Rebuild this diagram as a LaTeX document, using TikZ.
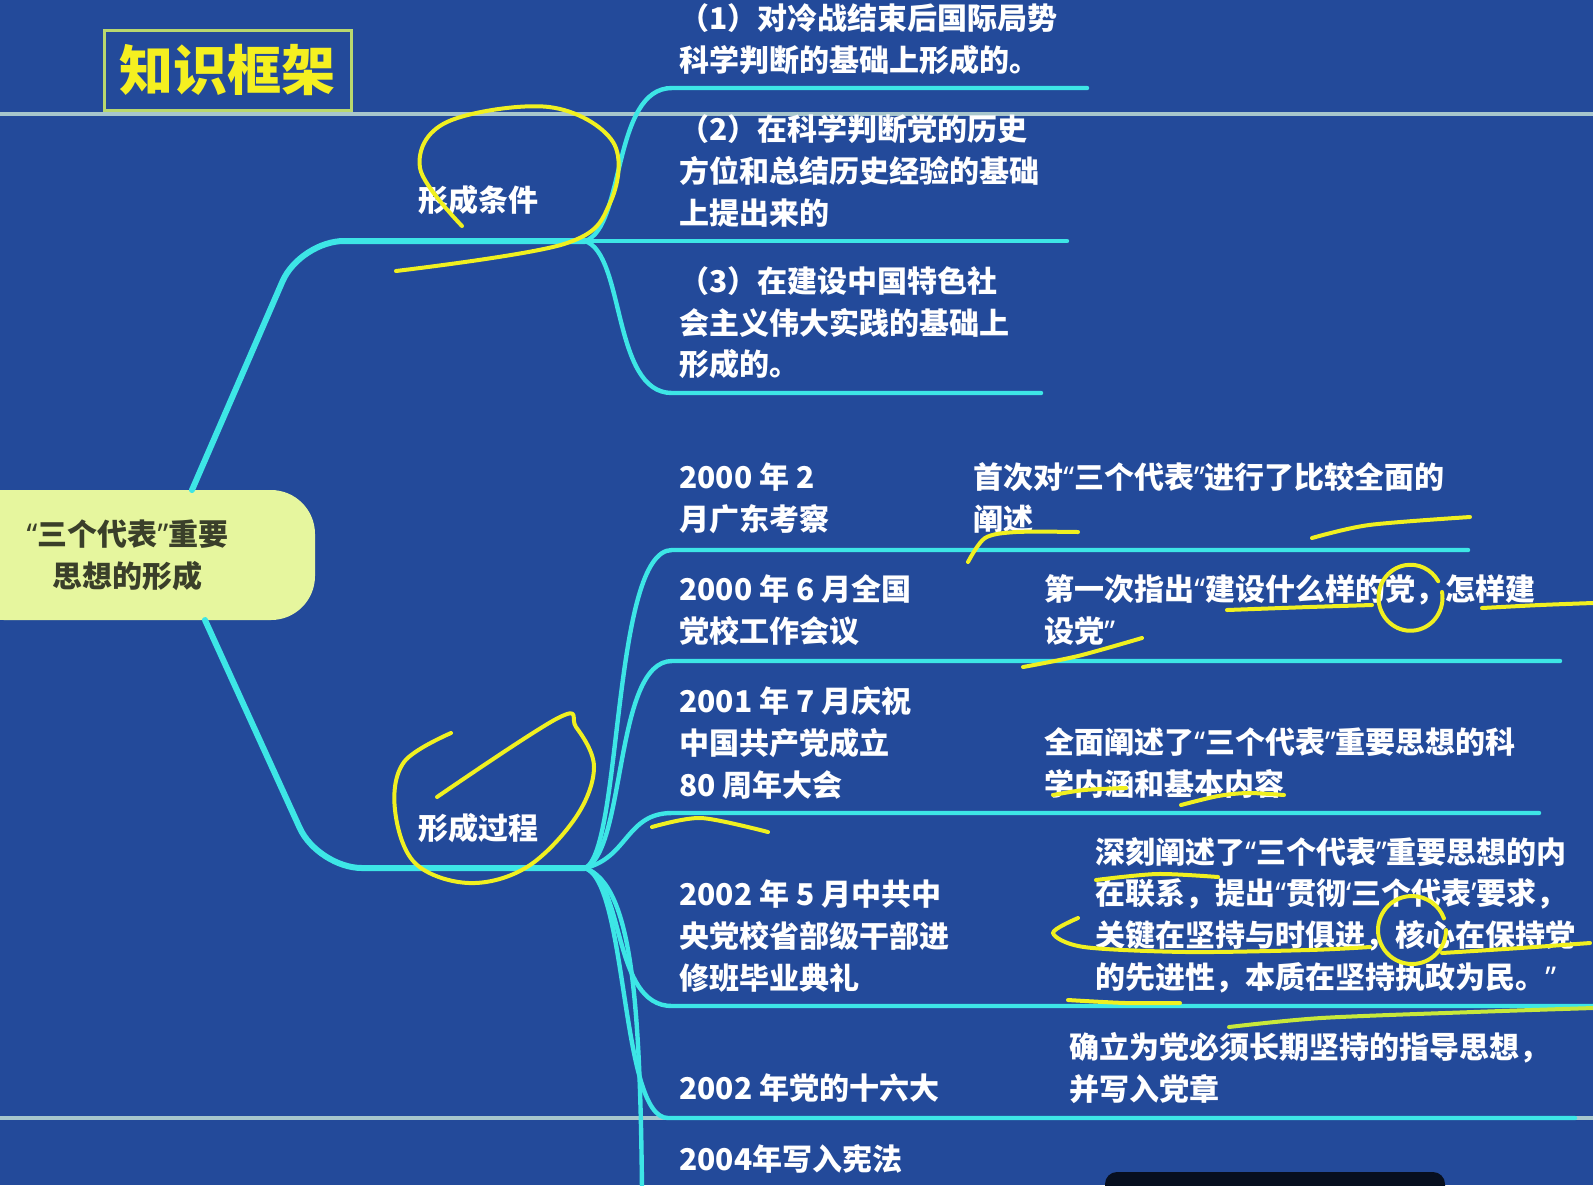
\documentclass[tikz,border=0pt]{standalone}
\usepackage{fontspec}
\newfontfamily\cjk{Noto Sans CJK SC}
\newfontfamily\latf{Noto Sans}
\newcommand\oq{{\latf “}}
\newcommand\cq{{\latf ”}}
\newcommand\osq{{\latf ‘}}
\newcommand\csq{{\latf ’}}
\definecolor{bg}{HTML}{234A9A}
\definecolor{cyanl}{HTML}{3DE6E6}
\definecolor{grayl}{HTML}{A7C6CC}
\definecolor{rootfill}{HTML}{E6F69E}
\definecolor{roottext}{HTML}{3A3F2A}
\definecolor{titley}{HTML}{F5F020}
\definecolor{titleb}{HTML}{B9D86E}
\definecolor{inky}{HTML}{F0F020}
\definecolor{inkg}{HTML}{C8E83A}
\tikzset{
  mainbr/.style={draw=cyanl, line width=3pt, line cap=round},
  subbr/.style={draw=cyanl, line width=2.2pt, line cap=round},
  slideline/.style={draw=grayl, line width=2pt},
  txt/.style={text=white, font=\cjk\bfseries\fontsize{15}{20.8}\selectfont, align=left, anchor=west, inner sep=0pt},
  lbl/.style={text=white, font=\cjk\bfseries\fontsize{15}{18}\selectfont, inner sep=0pt},
  rootbox/.style={fill=rootfill, rounded corners=22pt, minimum width=177.5pt, minimum height=65pt, text=roottext, font=\cjk\bfseries\fontsize{15}{21}\selectfont, align=center, inner sep=0pt},
  titlebox/.style={draw=titleb, line width=1.5pt, minimum width=123.5pt, minimum height=40pt, text=titley, font=\cjk\bfseries\fontsize{27}{30}\selectfont, inner sep=0pt},
  ink/.style={draw=inky, line width=2pt, line cap=round, line join=round},
}
\begin{document}
\begin{tikzpicture}[x=0.5pt,y=-0.5pt]
\useasboundingbox (0,0) rectangle (1593,1185);
\clip (0,0) rectangle (1593,1185);
\fill[bg] (0,0) rectangle (1593,1185);
% slide decoration lines
\draw[slideline] (0,114) -- (1593,114);
\draw[slideline] (0,1118) -- (1593,1118);
% title
\node[titlebox] (title) at (227.5,70) {知识框架};
% root
\node[rootbox] (root) at (137.5,555) {\hspace*{-10pt}\oq 三个代表\cq 重要\\\hspace*{-10pt}思想的形成};
% junction and branch points
\coordinate (rt) at (192,490);
\coordinate (rb) at (205,620);
\coordinate (j1) at (585,241);
\coordinate (j2) at (585,868);
\coordinate (e1) at (1087,88);
\coordinate (e2) at (1067,241);
\coordinate (e3) at (1041,393);
\coordinate (f1) at (1468,550);
\coordinate (f2) at (1560,661);
\coordinate (f3) at (1539,813);
\coordinate (f4) at (1600,1006);
\coordinate (f5) at (1575,1118);
\coordinate (f6) at (642,1190);
% main branches
\draw[mainbr, rounded corners=22pt] (rt) -- (300,241) -- (j1);
\draw[mainbr, rounded corners=22pt] (rb) -- (318,868) -- (j2);
% sub branches of 形成条件
\draw[subbr] (j1) .. controls (625,228) and (612,88) .. (672,88) -- (e1);
\draw[subbr] (j1) -- (e2);
\draw[subbr] (j1) .. controls (625,254) and (612,393) .. (672,393) -- (e3);
% sub branches of 形成过程
\draw[subbr] (j2) .. controls (622,852) and (612,550) .. (672,550) -- (f1);
\draw[subbr] (j2) .. controls (626,852) and (614,661) .. (672,661) -- (f2);
\draw[subbr] (j2) .. controls (628,858) and (626,813) .. (672,813) -- (f3);
\draw[subbr] (j2) .. controls (625,882) and (612,1006) .. (672,1006) -- (f4);
\draw[subbr] (j2) .. controls (628,882) and (620,1118) .. (668,1118) -- (f5);
\draw[subbr] (j2) .. controls (632,885) and (640,1000) .. (f6);
% branch labels
\node[lbl] (cond) at (478,200) {形成条件};
\node[lbl] (proc) at (478,828) {形成过程};
% condition texts
\node[txt] (c1) at (679,39) {（1）对冷战结束后国际局势\\科学判断的基础上形成的。};
\node[txt] (c2) at (679,171) {（2）在科学判断党的历史\\方位和总结历史经验的基础\\上提出来的};
\node[txt] (c3) at (679,323) {（3）在建设中国特色社\\会主义伟大实践的基础上\\形成的。};
% process texts
\node[txt] (p1) at (679,498) {2000 年 2\\月广东考察};
\node[txt] (q1) at (973,498) {首次对\oq 三个代表\cq 进行了比较全面的\\阐述};
\node[txt] (p2) at (679,610) {2000 年 6 月全国\\党校工作会议};
\node[txt] (q2) at (1044,610) {第一次指出\oq 建设什么样的党，怎样建\\设党\cq};
\node[txt] (p3) at (679,743) {2001 年 7 月庆祝\\中国共产党成立\\80 周年大会};
\node[txt] (q3) at (1044,763) {全面阐述了\oq 三个代表\cq 重要思想的科\\学内涵和基本内容};
\node[txt] (p4) at (679,936) {2002 年 5 月中共中\\央党校省部级干部进\\修班毕业典礼};
\node[txt] (q4) at (1095,915) {深刻阐述了\oq 三个代表\cq 重要思想的内\\在联系，提出\oq 贯彻\osq 三个代表\csq 要求，\\关键在坚持与时俱进，核心在保持党\\的先进性，本质在坚持执政为民。\cq};
\node[txt] (p5) at (679,1088) {2002 年党的十六大};
\node[txt] (q5) at (1069,1068) {确立为党必须长期坚持的指导思想，\\并写入党章};
\node[txt] (p6) at (679,1159) {2004年写入宪法};
% dark object at the bottom
\fill[black!80!bg, rounded corners=6pt] (1105,1172) rectangle (1445,1200);
% hand-drawn annotations
\draw[ink] plot[smooth, tension=0.6] coordinates {(462,226) (420,168) (447,122) (549,107) (613,142) (610,203) (564,244) (396,271)};
\draw[ink] plot[smooth, tension=0.6] coordinates {(451,733) (404,762) (395,810) (415,863) (469,883) (527,867) (576,817) (594,767) (576,727) (558,718) (437,797)};
\draw[ink] plot[smooth] coordinates {(968,562) (985,538) (1016,532) (1078,532)};
\draw[ink] plot[smooth] coordinates {(1312,538) (1369,525) (1470,517)};
\draw[ink] plot[smooth] coordinates {(1227,610) (1309,607) (1372,605)};
\draw[ink] (1442,592) arc[start angle=-10, end angle=330, x radius=32, y radius=33];
\draw[ink] plot[smooth] coordinates {(1482,608) (1540,605) (1593,603)};
\draw[ink] plot[smooth] coordinates {(1023,667) (1078,656) (1142,638)};
\draw[ink] plot[smooth] coordinates {(1053,795) (1084,790) (1126,788)};
\draw[ink] plot[smooth] coordinates {(1181,805) (1218,796) (1248,793) (1284,795)};
\draw[ink] plot[smooth] coordinates {(652,827) (701,818) (768,832)};
\draw[ink] plot[smooth] coordinates {(1096,880) (1157,874) (1218,877)};
\draw[ink] plot[smooth] coordinates {(1078,918) (1053,933) (1084,947) (1187,952) (1309,950) (1370,947)};
\draw[ink] (1446,930) arc[start angle=0, end angle=340, x radius=34, y radius=34];
\draw[ink] plot[smooth] coordinates {(1442,953) (1520,948) (1590,943)};
\draw[ink] plot[smooth] coordinates {(1068,1000) (1126,1003) (1180,1003)};
\draw[ink, draw=inkg] plot[smooth] coordinates {(1229,1027) (1321,1018) (1473,1012) (1593,1008)};
\end{tikzpicture}
\end{document}
